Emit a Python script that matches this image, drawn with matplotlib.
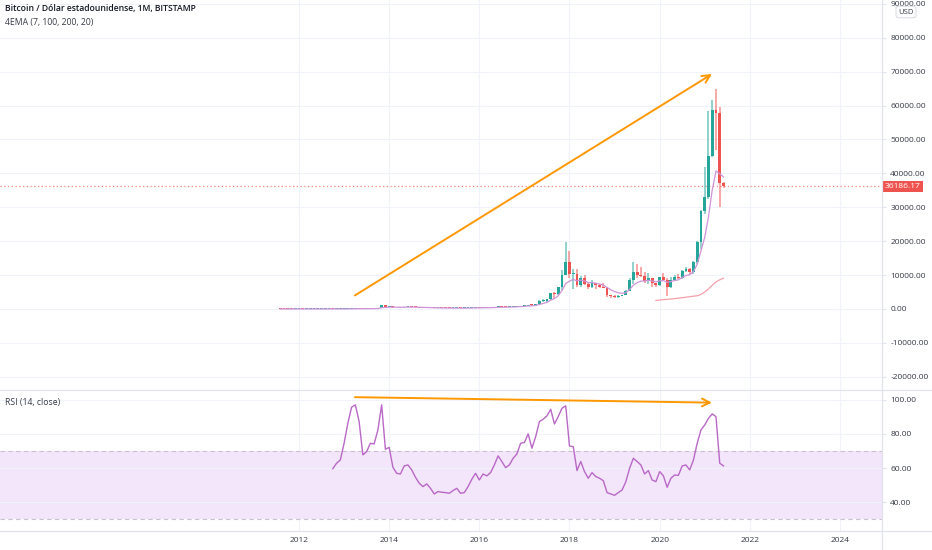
import numpy as np
import matplotlib.pyplot as plt
import matplotlib.transforms as mtransforms

plt.rcParams['font.family'] = ['Open Sans', 'DejaVu Sans']

# velas mensuales BTC/USD (Bitstamp), de ago 2011 a jun 2021
first_year, first_month = 2011, 8
opens = [10, 8.2, 5.1, 3.25, 3.0,
         4.7, 5.5, 4.9, 4.9, 5.0, 5.2, 6.7, 9.35, 10.2, 12.4, 11.2, 12.6,
         13.5, 20.4, 33.4, 93, 139, 129, 97, 106, 135, 133, 198, 1120,
         732, 800, 550, 445, 445, 628, 640, 585, 478, 387, 338, 375,
         320, 217, 254, 244, 236, 230, 263, 284, 230, 236, 314, 377,
         430, 369, 437, 416, 448, 531, 673, 624, 575, 609, 698, 742,
         963, 970, 1190, 1080, 1350, 2300, 2480, 2875, 4700, 4340, 6450, 9950,
         13850, 10220, 10330, 6930, 9240, 7500, 6390, 7730, 7030, 6630, 6300, 4020,
         3740, 3440, 3810, 4100, 5320, 8570, 10820, 10080, 9590, 8290, 9200, 7550,
         7190, 9350, 8540, 6410, 8630, 9450, 9140, 11350, 11650, 10780, 13800, 19700,
         28990, 33100, 45200, 58800, 57700, 37300]
highs = [11, 8.6, 5.2, 3.6, 4.8,
         7.4, 6.3, 5.4, 5.3, 5.2, 6.7, 9.7, 16, 12.6, 12.8, 12.6, 13.8,
         20.8, 33.6, 95, 266, 139, 130, 110, 140, 146, 214, 1163, 1150,
         1010, 830, 700, 545, 630, 680, 660, 600, 500, 420, 458, 380,
         320, 265, 298, 261, 248, 268, 315, 284, 242, 332, 502, 467,
         463, 440, 443, 466, 546, 780, 700, 627, 614, 720, 755, 980,
         1160, 1210, 1300, 1380, 2760, 3000, 2900, 4740, 4980, 6470, 11400, 19666,
         17200, 11800, 11700, 9760, 9990, 7780, 8500, 7760, 7400, 7680, 6570, 4250,
         4150, 4200, 4140, 5600, 9080, 13880, 13200, 12330, 10950, 10540, 9270, 7740,
         9580, 10500, 9190, 9470, 10070, 10400, 11440, 12480, 12060, 14090, 19950, 29300,
         41950, 58350, 61780, 64900, 59500, 37500]
lows = [7, 4.5, 2.2, 2.0, 2.8,
        4.6, 4.3, 4.7, 4.8, 4.9, 5.2, 6.5, 7, 10.1, 10.1, 10.4, 12.5,
        13.2, 19.6, 33, 50, 80, 88, 65, 100, 110, 105, 197, 400,
        730, 300, 440, 340, 430, 560, 570, 440, 365, 275, 320, 310,
        152, 212, 236, 214, 228, 218, 254, 198, 225, 235, 298, 348,
        348, 364, 393, 414, 440, 530, 480, 535, 570, 605, 685, 740,
        750, 920, 890, 1060, 1350, 2100, 1830, 2680, 2980, 4110, 5500, 10700,
        9000, 5920, 6600, 6430, 7000, 5750, 6070, 5880, 6100, 6200, 3650, 3120,
        3350, 3380, 3760, 4090, 5320, 7450, 9060, 9320, 7740, 7300, 6530, 6400,
        6880, 8450, 3850, 6150, 8120, 8890, 8940, 10980, 9880, 10420, 13200, 17600,
        28100, 32400, 44950, 47000, 30000, 35800]
closes = [8.2, 5.1, 3.25, 3.0, 4.7,
          5.5, 4.9, 4.9, 5.0, 5.2, 6.7, 9.35, 10.2, 12.4, 11.2, 12.6, 13.5,
          20.4, 33.4, 93, 139, 129, 97, 106, 135, 133, 198, 1120, 732,
          800, 550, 445, 445, 628, 640, 585, 478, 387, 338, 375, 320,
          217, 254, 244, 236, 230, 263, 284, 230, 236, 314, 377, 430,
          369, 437, 416, 448, 531, 673, 624, 575, 609, 698, 742, 963,
          970, 1190, 1080, 1350, 2300, 2480, 2875, 4700, 4340, 6450, 9950, 13850,
          10220, 10330, 6930, 9240, 7500, 6390, 7730, 7030, 6630, 6300, 4020, 3740,
          3440, 3810, 4100, 5320, 8570, 10820, 10080, 9590, 8290, 9200, 7550, 7190,
          9350, 8540, 6410, 8630, 9450, 9140, 11350, 11650, 10780, 13800, 19700, 28990,
          33100, 45200, 58800, 57700, 37300, 36186.17]

# EMA 7 (linea morada)
ema7 = [8, 7.3, 6.3, 5.5, 5.3,
        5.4, 5.3, 5.2, 5.1, 5.1, 5.5, 6.5, 7.4, 8.6, 9.3, 10.1, 11.0,
        13.4, 18.4, 37, 62, 79, 83, 89, 100, 108, 131, 378, 467,
        550, 550, 524, 504, 535, 561, 567, 545, 505, 463, 441, 411,
        362, 335, 312, 293, 277, 274, 276, 265, 257, 272, 298, 331,
        340, 364, 377, 395, 429, 490, 524, 536, 555, 590, 628, 712,
        776, 880, 930, 1035, 1351, 1633, 1944, 2633, 3060, 3907, 5418, 7526,
        8200, 8733, 8282, 8522, 8266, 7797, 7780, 7592, 7351, 7088, 6321, 5676,
        5117, 4790, 4617, 4793, 5737, 7008, 7776, 8229, 8244, 8483, 8250, 7985,
        8326, 8380, 7887, 8073, 8417, 8598, 9286, 9877, 10103, 11027, 13195, 17144,
        21133, 27150, 35062, 40722, 39866, 38946]

# EMA 100 (linea rosa), desde dic 2019
ema100_start = (2019, 12)
ema100 = [2500, 2640, 2760, 2830, 2940, 3060, 3180, 3330, 3480, 3610, 3780, 3900, 4300,
          5000, 5900, 7000, 8000, 8600, 9100]

# RSI (14) desde oct 2012
rsi_start = (2012, 10)
rsi = [59.6, 62.8, 64.7,
       74.5, 86.2, 95.6, 97.0, 87.2, 67.7, 69.6, 74.5, 74.1, 82.3, 97.0, 71.0,
       72.1, 60.4, 56.9, 56.5, 61.2, 61.8, 58.9, 54.6, 51.1, 49.1, 50.7, 48.1,
       44.8, 46.2, 45.8, 45.6, 45.2, 46.8, 48.1, 45.2, 45.6, 49.1, 53.4, 56.9,
       53.0, 56.5, 55.4, 57.3, 61.8, 67.1, 63.8, 60.2, 61.8, 65.7, 68.2, 74.5,
       74.9, 80.0, 71.6, 78.4, 87.2, 88.6, 90.5, 94.4, 85.8, 90.1, 95.0, 96.4,
       72.9, 72.5, 58.5, 63.8, 57.9, 54.0, 57.3, 55.0, 54.0, 52.6, 45.6, 44.8,
       44.0, 45.6, 47.1, 52.0, 59.8, 65.7, 63.8, 61.8, 56.5, 58.5, 53.0, 52.0,
       57.9, 55.4, 48.7, 54.0, 55.9, 55.7, 61.2, 61.8, 58.9, 64.7, 74.5, 82.3,
       85.2, 89.1, 91.7, 90.1, 62.8, 61.2]

last_price = 36186.17
price_ticks = [-20000, -10000, 0, 10000, 20000, 30000, 40000, 50000, 60000, 70000, 80000, 90000]
rsi_ticks = [40, 60, 80, 100]
year_ticks = [2012, 2014, 2016, 2018, 2020, 2022, 2024]


def month_positions(y0, m0, n):
    return np.array([y0 + (m0 - 1 + i) / 12 for i in range(n)])


x = month_positions(first_year, first_month, len(closes))
x_ema100 = month_positions(*ema100_start, len(ema100))
x_rsi = month_positions(*rsi_start, len(rsi))

up = '#26a69a'
down = '#ef5350'
grid = '#f0f3fa'
sep = '#e0e3eb'
txt = '#363a45'
orange = '#ff9800'

W, H = 932, 550
fig = plt.figure(figsize=(W / 100, H / 100), dpi=100)
ax = fig.add_axes([0, (H - 390) / H, 882 / W, 390 / H])
ax2 = fig.add_axes([0, (H - 531) / H, 882 / W, 141 / H], sharex=ax)

xmin, xmax = 2012 - 299 / 45.08, 2012 + 583 / 45.08

# ---- panel de precio ----
for v in price_ticks:
    ax.axhline(v, color=grid, lw=0.8, zorder=0)
for yr in year_ticks:
    ax.axvline(yr, color=grid, lw=0.8, zorder=0)
    ax2.axvline(yr, color=grid, lw=0.8, zorder=0)

o = np.array(opens)
c = np.array(closes)
hi = np.array(highs)
lo = np.array(lows)
col = np.where(c >= o, up, down)
ax.vlines(x, lo, hi, colors=col, lw=1.4, alpha=0.5, zorder=2)
body_bottom = np.minimum(o, c)
body_h = np.maximum(np.abs(c - o), 260)
ax.bar(x, body_h, bottom=body_bottom, width=0.063, color=col, lw=0, zorder=3)

ax.plot(x, ema7, color='#ce93d8', lw=0.9, zorder=4)
ax.plot(x_ema100, ema100, color='#f4a0aa', lw=0.9, zorder=4)

ax.axhline(last_price, color=down, lw=0.9, ls=(0, (1, 2)), alpha=0.7, zorder=1)

ax.annotate('', xy=(2021.16, 69300), xytext=(2013.24, 4000),
            arrowprops=dict(arrowstyle='->', color=orange, lw=1.4, mutation_scale=14,
                            shrinkA=0, shrinkB=0), zorder=5)

ax.set_xlim(xmin, xmax)
ax.set_ylim(-23900, 91150)
ax.yaxis.tick_right()
ax.set_yticks(price_ticks)
ax.set_yticklabels([f'{v:.2f}' for v in price_ticks])
ax.tick_params(axis='y', length=3, color=sep, labelsize=6, labelcolor=txt, pad=3)
ax.tick_params(axis='x', bottom=False, labelbottom=False)
for s in ax.spines.values():
    s.set_visible(False)

trans = mtransforms.blended_transform_factory(ax.transAxes, ax.transData)
ax.text(1.0035, last_price, f'{last_price:.2f}', transform=trans, fontsize=6,
        color='white', va='center', ha='left',
        bbox=dict(boxstyle='square,pad=0.25', fc=down, ec='none'), zorder=6, clip_on=False)

# ---- panel RSI ----
ax2.axhspan(30, 70, color='#f3e6fb', lw=0, zorder=0)
for v in rsi_ticks:
    ax2.axhline(v, color=grid, lw=0.8, zorder=0.5)
for v in (30, 70):
    ax2.axhline(v, color='#c9c0d0', lw=0.8, ls=(0, (4, 3)), zorder=1)
ax2.plot(x_rsi, rsi, color='#b968c7', lw=1.0, zorder=3)
ax2.annotate('', xy=(2021.16, 98.3), xytext=(2013.24, 101.5),
             arrowprops=dict(arrowstyle='->', color=orange, lw=1.4, mutation_scale=14,
                             shrinkA=0, shrinkB=0), zorder=5)
ax2.set_ylim(23.1, 105.7)
ax2.yaxis.tick_right()
ax2.set_yticks(rsi_ticks)
ax2.set_yticklabels([f'{v:.2f}' for v in rsi_ticks])
ax2.tick_params(axis='y', length=3, color=sep, labelsize=6, labelcolor=txt, pad=3)
ax2.set_xticks(year_ticks)
ax2.set_xticklabels([str(v) for v in year_ticks])
ax2.tick_params(axis='x', length=0, labelsize=6, labelcolor=txt, pad=4)
for s in ax2.spines.values():
    s.set_visible(False)

# lineas separadoras y eje
fig.add_artist(plt.Line2D([0, 1], [(H - 390) / H] * 2, color=sep, lw=0.9))
fig.add_artist(plt.Line2D([0, 1], [(H - 531) / H] * 2, color=sep, lw=0.9))
fig.add_artist(plt.Line2D([882 / W] * 2, [0, 1], color=sep, lw=0.9))

# textos de cabecera
fig.text(5 / W, 1 - 9 / H, 'Bitcoin / Dólar estadounidense, 1M, BITSTAMP', fontsize=6.2,
         fontweight='semibold', color='#131722', va='center', ha='left')
fig.text(5 / W, 1 - 22 / H, '4EMA (7, 100, 200, 20)', fontsize=6.2, color=txt,
         va='center', ha='left')
fig.text(5 / W, 1 - 403 / H, 'RSI (14, close)', fontsize=6.2, color=txt,
         va='center', ha='left')
fig.text(906 / W, 1 - 12 / H, 'USD', fontsize=5.5, color=txt, va='center', ha='center',
         bbox=dict(boxstyle='round,pad=0.3,rounding_size=0.3', fc='white', ec='#d1d4dc', lw=0.6))

fig.savefig('out.png', dpi=100)
